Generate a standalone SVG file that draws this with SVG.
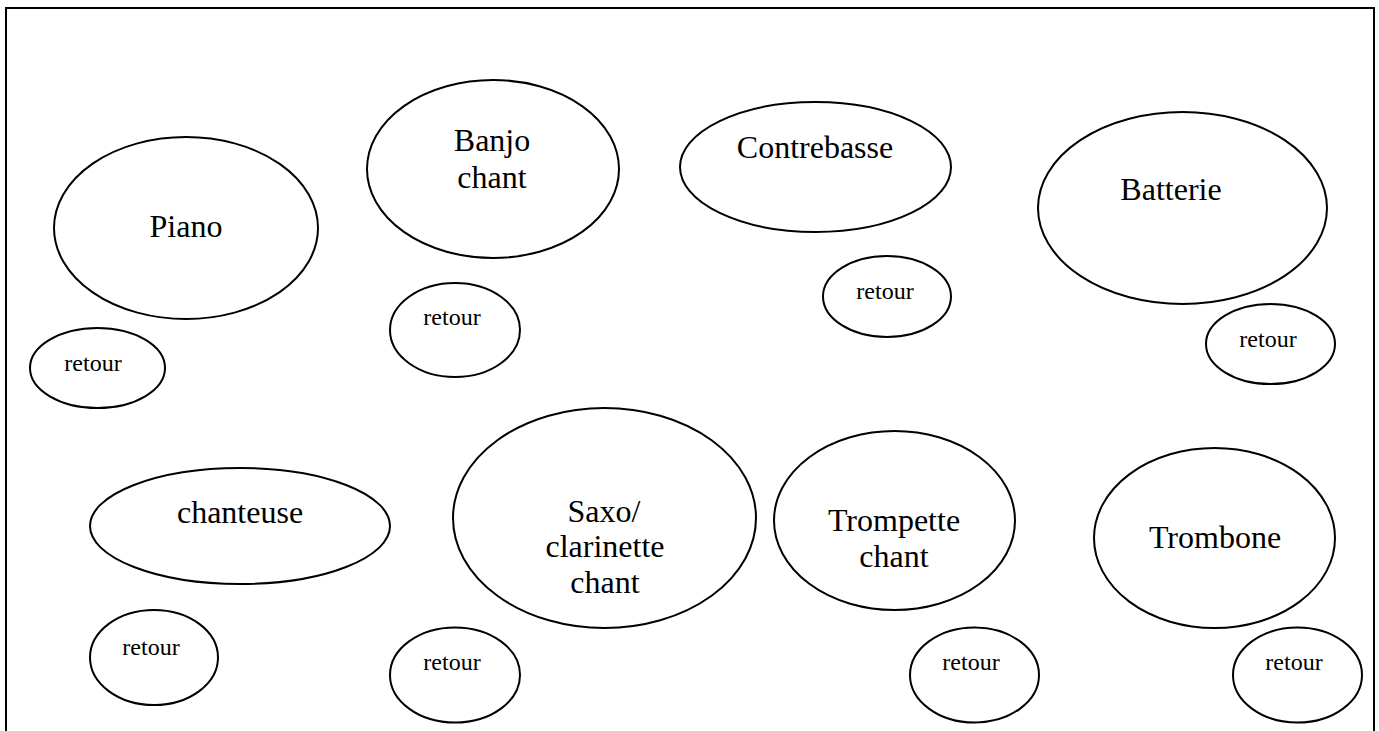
<svg xmlns="http://www.w3.org/2000/svg" width="1379" height="731" viewBox="0 0 1379 731">
<style>
.n{fill:#fff;stroke:#000;stroke-width:2}
.b{font-family:"Liberation Serif","Times New Roman",serif;font-size:32px;fill:#000;text-anchor:middle}
.s{font-family:"Liberation Serif","Times New Roman",serif;font-size:24px;fill:#000;text-anchor:middle}
</style>
<rect width="1379" height="731" fill="#fff"/>
<path d="M6,731 V8 H1374 V731" fill="none" stroke="#000" stroke-width="2"/>
<g id="connectors"></g>
<g id="piano"><ellipse class="n" cx="186" cy="228" rx="132" ry="91"/><text class="b" x="186" y="237">Piano</text></g>
<g id="retour-piano"><ellipse class="n" cx="97.5" cy="368" rx="67.5" ry="40"/><text class="s" x="93" y="371">retour</text></g>
<g id="banjo"><ellipse class="n" cx="493" cy="169" rx="126" ry="89"/><text class="b" x="492" y="151">Banjo</text><text class="b" x="492" y="188">chant</text></g>
<g id="retour-banjo"><ellipse class="n" cx="455" cy="330" rx="65" ry="47"/><text class="s" x="452" y="325">retour</text></g>
<g id="contrebasse"><ellipse class="n" cx="815.5" cy="167" rx="135.5" ry="65"/><text class="b" x="815" y="158">Contrebasse</text></g>
<g id="retour-contrebasse"><ellipse class="n" cx="887" cy="296.5" rx="64" ry="40.5"/><text class="s" x="885" y="299">retour</text></g>
<g id="batterie"><ellipse class="n" cx="1182.5" cy="208" rx="144.5" ry="96"/><text class="b" x="1171" y="200">Batterie</text></g>
<g id="retour-batterie"><ellipse class="n" cx="1270.5" cy="344" rx="64.5" ry="40"/><text class="s" x="1268" y="347">retour</text></g>
<g id="chanteuse"><ellipse class="n" cx="240" cy="526" rx="150" ry="58"/><text class="b" x="240" y="523">chanteuse</text></g>
<g id="retour-chanteuse"><ellipse class="n" cx="154" cy="657.5" rx="64" ry="47.5"/><text class="s" x="151" y="655">retour</text></g>
<g id="saxo"><ellipse class="n" cx="604.5" cy="518" rx="151.5" ry="110"/><text class="b" x="604" y="522">Saxo/</text><text class="b" x="605" y="557">clarinette</text><text class="b" x="605" y="593">chant</text></g>
<g id="trompette"><ellipse class="n" cx="894.5" cy="520.5" rx="120.5" ry="89.5"/><text class="b" x="894" y="531">Trompette</text><text class="b" x="894" y="567">chant</text></g>
<g id="trombone"><ellipse class="n" cx="1214.5" cy="538" rx="120.5" ry="90"/><text class="b" x="1215" y="548">Trombone</text></g>
<g id="retour-saxo"><ellipse class="n" cx="455" cy="675" rx="65" ry="47.5"/><text class="s" x="452" y="670">retour</text></g>
<g id="retour-trompette"><ellipse class="n" cx="974.5" cy="675" rx="64.5" ry="47.5"/><text class="s" x="971" y="670">retour</text></g>
<g id="retour-trombone"><ellipse class="n" cx="1297.5" cy="675" rx="64.5" ry="47.5"/><text class="s" x="1294" y="670">retour</text></g>
</svg>
